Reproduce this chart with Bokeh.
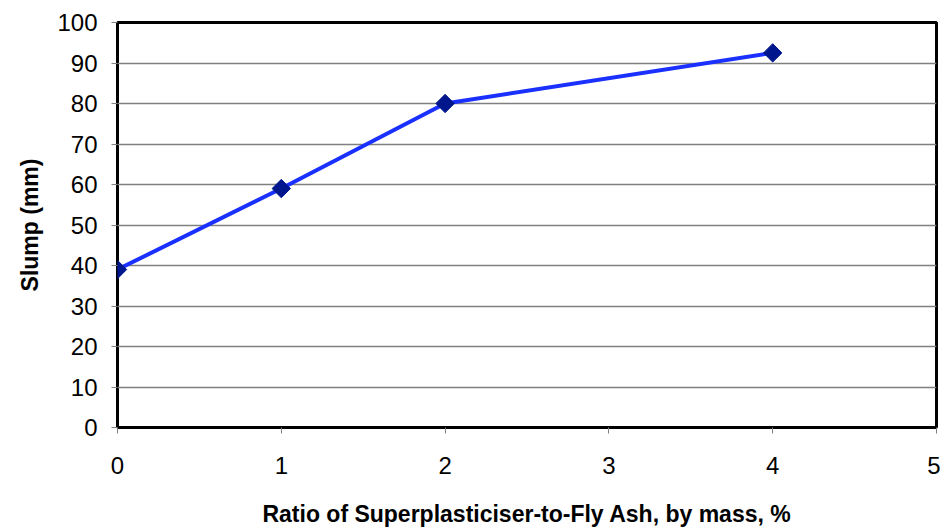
import math
from bokeh.plotting import figure
from bokeh.models import Range1d, FixedTicker
from bokeh.embed import file_html
from bokeh.resources import INLINE

ratio = [0, 1, 2, 4]
slump = [39, 59, 80, 92.5]
x_ticks = [0, 1, 2, 3, 4, 5]
y_ticks = [0, 10, 20, 30, 40, 50, 60, 70, 80, 90, 100]

p = figure(width=940, height=529, output_backend="svg", toolbar_location=None,
           x_range=Range1d(0, 5), y_range=Range1d(0, 100),
           min_border_left=117, min_border_right=4, min_border_top=22, min_border_bottom=102)

p.line(ratio, slump, line_color="#1a30ff", line_width=4)
p.scatter(ratio, slump, marker="square", size=13, angle=math.pi / 4,
          fill_color="#00168c", line_color="#00168c")

p.outline_line_color = "black"
p.outline_line_width = 3
p.xgrid.grid_line_color = None
p.ygrid.grid_line_color = "#808080"
p.ygrid.grid_line_width = 1.5

font = "Liberation Sans"
for ax in (p.xaxis, p.yaxis):
    ax.axis_line_color = None
    ax.major_tick_line_color = "#808080"
    ax.major_tick_out = 6
    ax.major_tick_in = 0
    ax.minor_tick_line_color = None
    ax.major_label_text_font = font
    ax.major_label_text_font_size = "24px"
    ax.major_label_text_color = "black"
    ax.axis_label_text_font = font
    ax.axis_label_text_font_size = "23px"
    ax.axis_label_text_font_style = "bold"
    ax.axis_label_text_color = "black"

p.xaxis.ticker = FixedTicker(ticks=x_ticks)
p.yaxis.ticker = FixedTicker(ticks=y_ticks)
p.xaxis.axis_label = "Ratio of Superplasticiser-to-Fly Ash, by mass, %"
p.yaxis.axis_label = "Slump (mm)"
p.xaxis.major_label_standoff = 23
p.xaxis.axis_label_standoff = 24
p.yaxis.major_label_standoff = 14
p.yaxis.axis_label_standoff = 11

open("out.html", "w").write(file_html(p, INLINE))
